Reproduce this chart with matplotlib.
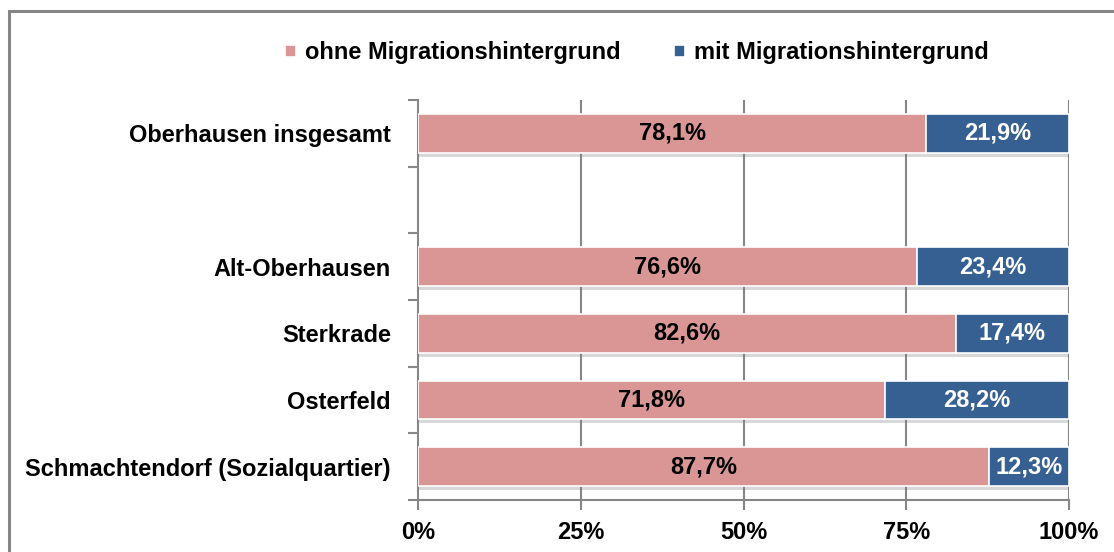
import matplotlib
matplotlib.use("Agg")
import matplotlib.pyplot as plt
import matplotlib.patheffects as pe
from matplotlib.patches import Rectangle
import numpy as np

plt.rcParams['font.family'] = ['Liberation Sans', 'DejaVu Sans']
plt.rcParams['font.weight'] = 'bold'

categories = ["Oberhausen insgesamt", "", "Alt-Oberhausen", "Sterkrade",
              "Osterfeld", "Schmachtendorf (Sozialquartier)"]
ohne = [78.1, None, 76.6, 82.6, 71.8, 87.7]
mit = [21.9, None, 23.4, 17.4, 28.2, 12.3]
series_names = ["ohne Migrationshintergrund", "mit Migrationshintergrund"]
xticks = [0, 25, 50, 75, 100]

c_ohne = "#D99694"
c_mit = "#376092"
gray = "#868686"
fs = 17

fig = plt.figure(figsize=(11.14, 5.52), dpi=100)
W, H = 1114, 552
# outer chart frame (right and bottom edges are cut off)
fig.patches.append(Rectangle((9 / W, -0.2), 1.2, 1.2 - 11 / H, transform=fig.transFigure,
                             fill=False, edgecolor=gray, linewidth=2.2))

ax = fig.add_axes([418 / W, 1 - 500 / H, (1069 - 418) / W, 400 / H])

n = len(categories)
pos = np.arange(n) + 0.5
bars = []

for i, (a, b) in enumerate(zip(ohne, mit)):
    if a is None:
        continue
    r1 = ax.barh(pos[i], a, height=0.58, color=c_ohne, edgecolor="white", linewidth=1.2,
                 label=series_names[0] if i == 0 else None, zorder=3)
    r2 = ax.barh(pos[i], b, left=a, height=0.58, color=c_mit, edgecolor="white", linewidth=1.2,
                 label=series_names[1] if i == 0 else None, zorder=3)
    bars += list(r1) + list(r2)
    ax.text(a / 2, pos[i], f"{a:.1f}%".replace(".", ","), ha="center", va="center",
            fontsize=fs, fontweight="bold", color="black", zorder=4)
    ax.text(a + b / 2, pos[i], f"{b:.1f}%".replace(".", ","), ha="center", va="center",
            fontsize=fs, fontweight="bold", color="white", zorder=4)

ax.set_xlim(0, 100)
ax.set_ylim(n, 0)

ax.set_xticks(xticks)
ax.set_xticklabels([f"{t}%" for t in xticks], fontsize=fs, fontweight="bold")
ax.tick_params(axis="x", length=7, width=1.5, color=gray, pad=8)
for t in xticks[1:]:
    ax.axvline(t, color=gray, linewidth=1.5, zorder=1)

ax.set_yticks(np.arange(n + 1))
ax.set_yticklabels([])
ax.tick_params(axis="y", which="major", length=7, width=1.5, color=gray)
ax.set_yticks(pos, minor=True)
ax.set_yticklabels(categories, minor=True, fontsize=fs, fontweight="bold")
ax.tick_params(axis="y", which="minor", length=0, pad=19.5)

for s in ["top", "right"]:
    ax.spines[s].set_visible(False)
for s in ["left", "bottom"]:
    ax.spines[s].set_color(gray)
    ax.spines[s].set_linewidth(1.5)

fig.legend(loc="center", bbox_to_anchor=(637 / W, 1 - 53 / H), ncol=2, frameon=False,
           prop={"size": fs, "weight": "bold"}, handlelength=0.45, handleheight=0.45,
           handletextpad=0.4, columnspacing=2.25)

# drop shadow under the bars (added after the legend so the legend keys stay plain)
shadow = [pe.SimplePatchShadow(offset=(0, -3), shadow_rgbFace="#7f7f7f", alpha=0.3), pe.Normal()]
for r in bars:
    r.set_path_effects(shadow)

fig.savefig("out.png", dpi=100)
